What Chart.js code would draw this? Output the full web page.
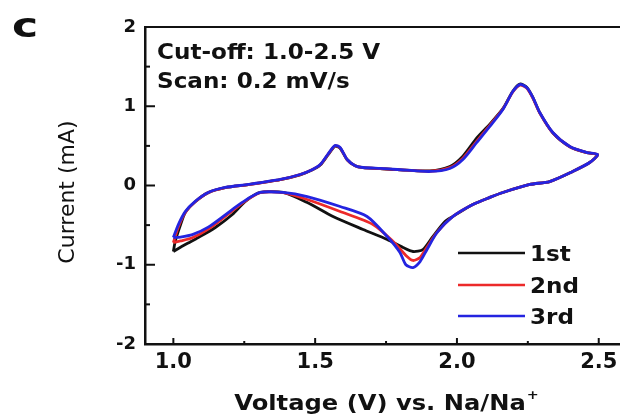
<!DOCTYPE html>
<html><head><meta charset="utf-8">
<script src="https://cdn.jsdelivr.net/npm/chart.js@4"></script>
<style>html,body{margin:0;padding:0;background:#fff;overflow:hidden}#wrap{width:620px;height:414px;position:relative}</style>
</head><body><div id="wrap"><canvas id="c" width="620" height="414"></canvas></div>
<script>
const cycleNames = ['1st', '2nd', '3rd'];
const cycleColors = ['#111111', '#ec2a2a', '#2424e0'];

const voltage1 = [1.000,1.007,1.025,1.042,1.077,1.123,1.183,1.264,1.377,1.447,1.489,1.518,1.546,1.570,1.588,1.613,1.641,1.669,1.729,1.789,1.905,1.975,2.021,2.070,2.116,2.162,2.197,2.222,2.246,2.268,2.292,2.338,2.398,2.458,2.496,2.468,2.408,2.327,2.257,2.162,2.116,2.056,1.986,1.958,1.915,1.880,1.845,1.810,1.754,1.669,1.563,1.472,1.387,1.306,1.254,1.208,1.148,1.088,1.042,1.000];
const current1 = [-0.833,-0.70,-0.50,-0.34,-0.205,-0.09,-0.027,0.011,0.074,0.135,0.195,0.258,0.39,0.495,0.47,0.325,0.248,0.225,0.213,0.200,0.185,0.24,0.37,0.60,0.775,0.97,1.19,1.28,1.24,1.11,0.92,0.665,0.49,0.414,0.389,0.29,0.177,0.05,0.013,-0.088,-0.15,-0.24,-0.39,-0.454,-0.644,-0.808,-0.833,-0.782,-0.681,-0.555,-0.391,-0.215,-0.088,-0.088,-0.20,-0.366,-0.53,-0.656,-0.745,-0.833];

const voltage2 = [1.000,1.018,1.042,1.077,1.123,1.183,1.264,1.377,1.447,1.489,1.518,1.546,1.570,1.588,1.613,1.641,1.669,1.729,1.789,1.905,1.975,2.021,2.070,2.116,2.162,2.197,2.222,2.246,2.268,2.292,2.338,2.398,2.458,2.496,2.468,2.408,2.327,2.257,2.162,2.116,2.056,1.986,1.930,1.894,1.870,1.845,1.824,1.775,1.704,1.588,1.472,1.387,1.306,1.240,1.183,1.123,1.067,1.025,1.000];
const current2 = [-0.72,-0.52,-0.34,-0.205,-0.09,-0.027,0.011,0.074,0.137,0.20,0.262,0.395,0.50,0.475,0.325,0.248,0.225,0.213,0.200,0.180,0.225,0.345,0.56,0.76,0.965,1.18,1.265,1.23,1.10,0.915,0.665,0.49,0.414,0.389,0.29,0.177,0.05,0.013,-0.088,-0.15,-0.24,-0.39,-0.59,-0.78,-0.908,-0.946,-0.896,-0.707,-0.492,-0.328,-0.177,-0.09,-0.09,-0.23,-0.39,-0.55,-0.66,-0.70,-0.72];

const voltage3 = [1.000,1.018,1.042,1.077,1.123,1.183,1.264,1.377,1.447,1.489,1.518,1.546,1.570,1.588,1.613,1.641,1.669,1.729,1.789,1.905,1.975,2.021,2.070,2.116,2.162,2.197,2.222,2.246,2.268,2.292,2.338,2.398,2.458,2.496,2.468,2.408,2.327,2.257,2.162,2.116,2.056,1.986,1.930,1.894,1.870,1.845,1.820,1.799,1.754,1.683,1.588,1.472,1.387,1.306,1.240,1.183,1.123,1.067,1.025,1.000];
const current3 = [-0.656,-0.49,-0.33,-0.20,-0.088,-0.025,0.013,0.076,0.139,0.20,0.265,0.40,0.505,0.48,0.328,0.25,0.227,0.215,0.202,0.177,0.215,0.328,0.543,0.745,0.959,1.186,1.274,1.237,1.11,0.921,0.669,0.492,0.416,0.391,0.29,0.177,0.05,0.013,-0.088,-0.15,-0.24,-0.39,-0.593,-0.81,-0.96,-1.035,-1.0,-0.845,-0.644,-0.391,-0.265,-0.139,-0.088,-0.088,-0.22,-0.37,-0.525,-0.62,-0.65,-0.656];

const xTickValues = [1.0, 1.5, 2.0, 2.5];
const xMinorTicks = [1.25, 1.75, 2.25];
const yTickValues = [-2, -1, 0, 1, 2];
const yMinorTicks = [-1.5, -0.5, 0.5, 1.5];
const panelLabel = 'c';
const annotations = ['Cut-off: 1.0-2.5 V', 'Scan: 0.2 mV/s'];
const xTitle = 'Voltage (V) vs. Na/Na';
const xTitleSup = '+';
const yTitle = 'Current (mA)';

const voltages = [voltage1, voltage2, voltage3];
const currents = [current1, current2, current3];

const datasets = cycleNames.map((name, i) => ({
  label: name,
  data: voltages[i].map((v, k) => ({x: v, y: currents[i][k]})),
  borderColor: cycleColors[i],
  backgroundColor: cycleColors[i],
  borderWidth: 2.8,
  pointRadius: 0,
  showLine: true,
  tension: 0.25,
  fill: false,
  order: cycleNames.length - 1 - i
}));

function scaledText(ctx, text, x, y, sx) {
  ctx.save();
  ctx.translate(x, y);
  ctx.scale(sx, 1);
  ctx.fillText(text, 0, 0);
  ctx.restore();
}

const deco = {
  id: 'deco',
  afterDraw(chart) {
    const {ctx, chartArea: a, scales: {x, y}} = chart;
    ctx.save();
    ctx.strokeStyle = '#111';
    ctx.fillStyle = '#111';
    ctx.lineCap = 'butt';
    ctx.lineWidth = 2;
    ctx.beginPath(); ctx.moveTo(a.left, a.top); ctx.lineTo(a.right, a.top); ctx.stroke();
    const seg = (x1, y1, x2, y2) => { ctx.beginPath(); ctx.moveTo(x1, y1); ctx.lineTo(x2, y2); ctx.stroke(); };
    yTickValues.forEach(v => { const p = y.getPixelForValue(v); seg(a.left, p, a.left + 10, p); });
    yMinorTicks.forEach(v => { const p = y.getPixelForValue(v); seg(a.left, p, a.left + 5, p); });
    xTickValues.forEach(v => { const p = x.getPixelForValue(v); seg(p, a.bottom, p, a.bottom - 6); });
    xMinorTicks.forEach(v => { const p = x.getPixelForValue(v); seg(p, a.bottom, p, a.bottom - 3); });

    ctx.textBaseline = 'alphabetic';
    ctx.textAlign = 'left';
    ctx.font = 'bold 34px "DejaVu Sans"';
    scaledText(ctx, panelLabel, 12, 37, 1.3);
    ctx.font = 'bold 21px "DejaVu Sans"';
    scaledText(ctx, annotations[0], 157, 59, 1.1);
    scaledText(ctx, annotations[1], 157, 88, 1.1);

    const ly = [253, 285, 316];
    cycleNames.forEach((name, i) => {
      ctx.strokeStyle = cycleColors[i];
      ctx.lineWidth = 2.6;
      seg(458, ly[i], 525, ly[i]);
      ctx.fillStyle = '#111';
      ctx.font = 'bold 21px "DejaVu Sans"';
      scaledText(ctx, name, 530, ly[i] + 8, 1.1);
    });

    ctx.fillStyle = '#111';
    ctx.font = 'bold 22px "DejaVu Sans"';
    const mainW = ctx.measureText(xTitle).width * 1.1;
    ctx.font = 'bold 13px "DejaVu Sans"';
    const supW = ctx.measureText(xTitleSup).width * 1.1;
    const startX = 386 - (mainW + supW) / 2;
    ctx.font = 'bold 22px "DejaVu Sans"';
    scaledText(ctx, xTitle, startX, 410, 1.1);
    ctx.font = 'bold 13px "DejaVu Sans"';
    scaledText(ctx, xTitleSup, startX + mainW + 1, 399, 1.1);

    ctx.font = '22px "DejaVu Sans"';
    ctx.save();
    ctx.translate(68, 192);
    ctx.rotate(-Math.PI / 2);
    ctx.textAlign = 'center';
    ctx.textBaseline = 'middle';
    ctx.fillText(yTitle, 0, 0);
    ctx.restore();
    ctx.restore();
  }
};

new Chart(document.getElementById('c'), {
  type: 'scatter',
  data: {datasets},
  options: {
    responsive: false,
    devicePixelRatio: 1,
    animation: false,
    layout: {padding: {top: 27, right: 0, left: 0, bottom: 0}},
    plugins: {legend: {display: false}, tooltip: {enabled: false}},
    scales: {
      x: {
        type: 'linear',
        min: 0.9,
        max: 2.575,
        afterBuildTicks: s => { s.ticks = xTickValues.map(v => ({value: v})); },
        afterFit: s => { s.height = 70; s.paddingLeft = 0; s.paddingRight = 0; },
        grid: {display: false, drawTicks: false},
        border: {display: true, color: '#111', width: 2.5},
        ticks: {
          padding: 6,
          color: '#111',
          maxRotation: 0,
          autoSkip: false,
          font: {family: 'DejaVu Sans', size: 21, weight: 'bold'},
          callback: v => Number(v).toFixed(1)
        }
      },
      y: {
        type: 'linear',
        min: -2,
        max: 2,
        afterBuildTicks: s => { s.ticks = yTickValues.map(v => ({value: v})); },
        afterFit: s => { s.width = 145; s.paddingTop = 0; s.paddingBottom = 0; },
        grid: {display: false, drawTicks: false},
        border: {display: true, color: '#111', width: 2.5},
        ticks: {
          padding: 9,
          color: '#111',
          autoSkip: false,
          font: {family: 'DejaVu Sans', size: 18, weight: 'bold'},
          callback: v => String(v)
        }
      }
    }
  },
  plugins: [deco]
});
</script>
</body></html>
